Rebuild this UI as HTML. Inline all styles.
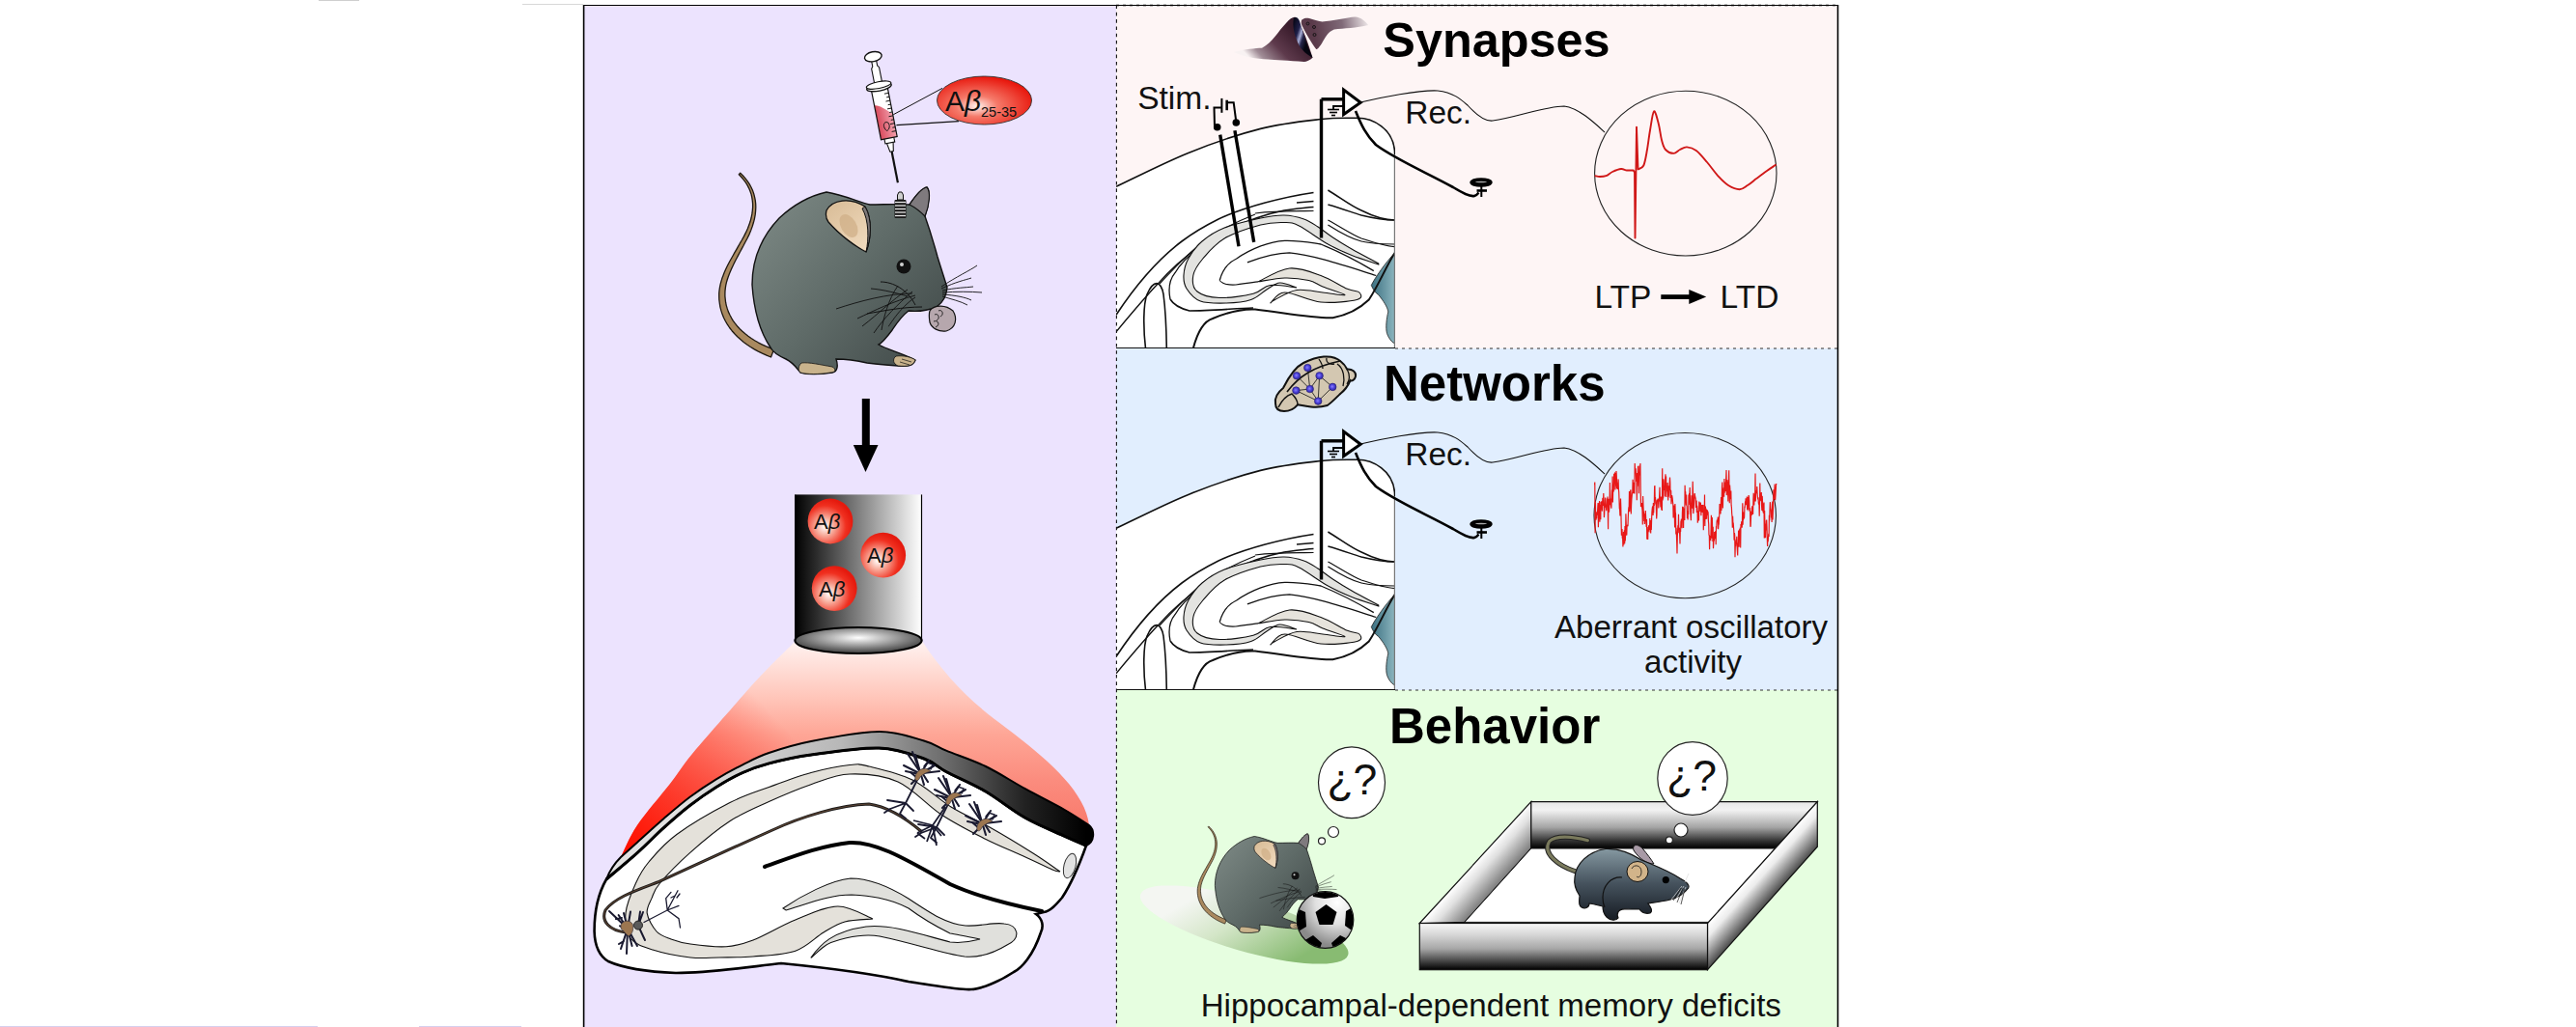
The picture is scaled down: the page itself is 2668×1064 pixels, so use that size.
<!DOCTYPE html>
<html><head><meta charset="utf-8">
<style>
html,body{margin:0;padding:0;background:#fff;width:2668px;height:1064px;overflow:hidden}
svg{display:block}
text{font-family:"Liberation Sans",sans-serif}
</style></head>
<body>
<svg width="2668" height="1064" viewBox="0 0 2668 1064">
<defs>

<linearGradient id="gBody" x1="790" y1="220" x2="960" y2="370" gradientUnits="userSpaceOnUse"><stop offset="0" stop-color="#7a8682"/><stop offset="0.5" stop-color="#5f6b68"/><stop offset="1" stop-color="#434c4b"/></linearGradient>
<linearGradient id="gEar" x1="860" y1="210" x2="900" y2="260" gradientUnits="userSpaceOnUse"><stop offset="0" stop-color="#d9bd98"/><stop offset="1" stop-color="#f2dcc0"/></linearGradient>
<radialGradient id="gEll" cx="0.42" cy="0.62" r="0.62"><stop offset="0" stop-color="#fff2ee"/><stop offset="0.35" stop-color="#f57a6a"/><stop offset="1" stop-color="#e8160c"/></radialGradient>
<radialGradient id="gBall" cx="0.38" cy="0.62" r="0.62"><stop offset="0" stop-color="#ffffff"/><stop offset="0.3" stop-color="#f8b0a0"/><stop offset="0.75" stop-color="#f03020"/><stop offset="1" stop-color="#e51a0e"/></radialGradient>
<linearGradient id="gCyl" x1="823" y1="0" x2="955" y2="0" gradientUnits="userSpaceOnUse"><stop offset="0" stop-color="#000"/><stop offset="1" stop-color="#fff"/></linearGradient>
<radialGradient id="gCylB" cx="0.5" cy="0.4" r="0.6"><stop offset="0" stop-color="#fff"/><stop offset="1" stop-color="#3a3a3a"/></radialGradient>
<radialGradient id="gBeam" cx="900" cy="630" r="340" gradientUnits="userSpaceOnUse"><stop offset="0" stop-color="#fff6f4"/><stop offset="0.3" stop-color="#fde2de"/><stop offset="0.7" stop-color="#fb8a80"/><stop offset="1" stop-color="#ff1a06"/></radialGradient>
<linearGradient id="gBand" x1="700" y1="0" x2="1125" y2="0" gradientUnits="userSpaceOnUse"><stop offset="0" stop-color="#e2e2e2"/><stop offset="0.4" stop-color="#b8b8b8"/><stop offset="0.65" stop-color="#6e6e6e"/><stop offset="0.85" stop-color="#222"/><stop offset="1" stop-color="#000"/></linearGradient>
<linearGradient id="gFluid" x1="0" y1="0" x2="1" y2="0"><stop offset="0" stop-color="#d84a5c"/><stop offset="1" stop-color="#f2a0ae"/></linearGradient>

<clipPath id="cSlice"><rect x="1156" y="0" width="289" height="361"/></clipPath>
<linearGradient id="gTeal" x1="1420" y1="0" x2="1445" y2="0" gradientUnits="userSpaceOnUse"><stop offset="0" stop-color="#3a6f80"/><stop offset="1" stop-color="#8db6bf"/></linearGradient>
<linearGradient id="gSynL" x1="1290" y1="20" x2="1330" y2="64" gradientUnits="userSpaceOnUse"><stop offset="0" stop-color="#3d2030"/><stop offset="0.55" stop-color="#6a4a5a"/><stop offset="1" stop-color="#f4eef0"/></linearGradient>
<linearGradient id="gSynR" x1="1360" y1="30" x2="1420" y2="20" gradientUnits="userSpaceOnUse"><stop offset="0" stop-color="#5a3a4a"/><stop offset="0.5" stop-color="#806a78"/><stop offset="1" stop-color="#fbf6f6"/></linearGradient>
<linearGradient id="gPSD" x1="1338" y1="30" x2="1356" y2="36" gradientUnits="userSpaceOnUse"><stop offset="0" stop-color="#0a0a1c"/><stop offset="0.35" stop-color="#20204a"/><stop offset="0.55" stop-color="#aab0d8"/><stop offset="0.72" stop-color="#26264c"/><stop offset="1" stop-color="#050510"/></linearGradient>

<linearGradient id="gShadow" x1="1250" y1="925" x2="1330" y2="1000" gradientUnits="userSpaceOnUse"><stop offset="0" stop-color="#f4f6f2"/><stop offset="0.4" stop-color="#d4e6c8"/><stop offset="1" stop-color="#88bb72"/></linearGradient>
<radialGradient id="gSoccer" cx="1385" cy="935" r="45" gradientUnits="userSpaceOnUse"><stop offset="0" stop-color="#ffffff"/><stop offset="0.5" stop-color="#e0e0e0"/><stop offset="1" stop-color="#8a8a8a"/></radialGradient>
<linearGradient id="gBack" x1="0" y1="830.6" x2="0" y2="879" gradientUnits="userSpaceOnUse"><stop offset="0" stop-color="#e6e6e6"/><stop offset="0.18" stop-color="#f2f2f2"/><stop offset="0.55" stop-color="#a4a4a4"/><stop offset="0.85" stop-color="#2e2e2e"/><stop offset="1" stop-color="#000"/></linearGradient>
<linearGradient id="gFront" x1="0" y1="956.5" x2="0" y2="1004.7" gradientUnits="userSpaceOnUse"><stop offset="0" stop-color="#f8f8f8"/><stop offset="0.25" stop-color="#d6d6d6"/><stop offset="0.55" stop-color="#a6a6a6"/><stop offset="0.8" stop-color="#4a4a4a"/><stop offset="1" stop-color="#000"/></linearGradient>
<linearGradient id="gLeftW" x1="1528" y1="893.5" x2="1552" y2="915" gradientUnits="userSpaceOnUse"><stop offset="0" stop-color="#ffffff"/><stop offset="0.35" stop-color="#e0e0e0"/><stop offset="1" stop-color="#808080"/></linearGradient>
<linearGradient id="gRightW" x1="1825" y1="893.5" x2="1849" y2="915" gradientUnits="userSpaceOnUse"><stop offset="0" stop-color="#ffffff"/><stop offset="0.3" stop-color="#ececec"/><stop offset="1" stop-color="#4a4a4a"/></linearGradient>
<linearGradient id="gM3" x1="0" y1="880" x2="0" y2="950" gradientUnits="userSpaceOnUse"><stop offset="0" stop-color="#8497a0"/><stop offset="0.5" stop-color="#46535e"/><stop offset="1" stop-color="#1a2028"/></linearGradient>
<linearGradient id="gBeamV" x1="0" y1="665" x2="0" y2="856" gradientUnits="userSpaceOnUse"><stop offset="0" stop-color="#fff2f0"/><stop offset="0.3" stop-color="#ffc6ba"/><stop offset="0.5" stop-color="#fea696"/><stop offset="0.75" stop-color="#fb8c7e"/><stop offset="1" stop-color="#f97a6c"/></linearGradient>
<linearGradient id="gBeamL" x1="800" y1="740" x2="650" y2="880" gradientUnits="userSpaceOnUse"><stop offset="0" stop-color="#ff1000" stop-opacity="0"/><stop offset="1" stop-color="#ff1000" stop-opacity="1"/></linearGradient>
<linearGradient id="gSynL2" x1="1338" y1="30" x2="1300" y2="66" gradientUnits="userSpaceOnUse"><stop offset="0" stop-color="#3a1c2c"/><stop offset="0.45" stop-color="#5e3a4c"/><stop offset="0.8" stop-color="#a08c96"/><stop offset="1" stop-color="#f8f2f2"/></linearGradient>
<radialGradient id="gDot" cx="0.45" cy="0.45" r="0.6"><stop offset="0" stop-color="#8a80ff"/><stop offset="0.5" stop-color="#4a3fd8"/><stop offset="1" stop-color="#2a2290"/></radialGradient>
<!--DEFS-->
</defs>
<rect x="0" y="0" width="2668" height="1064" fill="#fff"/>
<!-- artifacts -->
<line x1="541" y1="4.5" x2="604" y2="4.5" stroke="#d8d8d8" stroke-width="1"/>
<line x1="330" y1="0.5" x2="372" y2="0.5" stroke="#cfcfcf" stroke-width="1"/>
<line x1="0" y1="1063.5" x2="329" y2="1063.5" stroke="#d6d0ee" stroke-width="1"/>
<line x1="434" y1="1063.5" x2="540" y2="1063.5" stroke="#d6d0ee" stroke-width="1"/>

<!-- panels -->
<rect x="604.5" y="5.5" width="551.5" height="1070" fill="#ECE3FE"/>
<line x1="604.6" y1="5" x2="604.6" y2="1064" stroke="#000" stroke-width="1.6"/>
<rect x="1156" y="5.5" width="747.5" height="355.5" fill="#FEF5F5"/>
<rect x="1156" y="361" width="747.5" height="354" fill="#E1EEFE"/>
<rect x="1156" y="715" width="747.5" height="360" fill="#E6FEE0"/>

<g id="leftpanel">
<!-- body -->
<g id="mouse"><!-- tail -->
<path d="M765.3,180.7 L767.9,183.5 L770.3,186.3 L772.4,189.2 L774.2,192.1 L775.7,195.1 L777.0,198.2 L778.1,201.4 L778.8,204.6 L779.3,208.0 L779.6,211.3 L779.6,214.8 L779.3,218.3 L778.8,221.9 L778.1,225.5 L777.1,229.3 L775.8,233.1 L774.3,237.0 L772.5,240.9 L770.5,244.9 L768.2,249.0 L766.3,252.2 L764.5,255.4 L762.7,258.6 L760.9,261.7 L759.2,264.7 L757.5,267.7 L755.8,270.8 L754.2,273.8 L752.7,276.7 L751.3,279.7 L750.0,282.7 L748.9,285.7 L747.8,288.6 L746.9,291.6 L746.1,294.7 L745.5,297.7 L745.0,300.8 L744.7,304.0 L744.7,307.1 L744.8,310.3 L745.3,314.2 L745.9,318.1 L746.9,321.9 L748.1,325.6 L749.6,329.2 L751.4,332.7 L753.4,336.2 L755.6,339.5 L758.1,342.7 L760.8,345.8 L763.7,348.8 L766.8,351.6 L770.2,354.4 L773.7,357.0 L777.4,359.5 L781.3,361.9 L785.4,364.1 L789.6,366.2 L794.0,368.2 L798.5,370.0 L801.5,362.0 L797.2,360.4 L793.0,358.7 L789.1,356.8 L785.2,354.8 L781.6,352.7 L778.1,350.5 L774.9,348.2 L771.8,345.8 L768.9,343.3 L766.2,340.7 L763.7,338.0 L761.4,335.2 L759.3,332.3 L757.5,329.3 L755.9,326.3 L754.4,323.1 L753.3,319.9 L752.3,316.6 L751.6,313.2 L751.2,309.7 L750.9,306.9 L750.9,304.2 L751.0,301.4 L751.3,298.6 L751.7,295.9 L752.3,293.1 L753.1,290.3 L754.0,287.5 L755.0,284.7 L756.2,281.8 L757.4,278.9 L758.8,276.0 L760.2,273.0 L761.7,270.0 L763.3,267.0 L764.9,263.9 L766.6,260.7 L768.3,257.6 L770.1,254.3 L771.8,251.0 L774.1,246.8 L776.1,242.6 L777.8,238.4 L779.3,234.3 L780.5,230.3 L781.5,226.3 L782.2,222.4 L782.6,218.6 L782.8,214.8 L782.7,211.2 L782.3,207.6 L781.6,204.1 L780.7,200.6 L779.5,197.3 L778.0,194.0 L776.3,190.9 L774.3,187.8 L772.0,184.9 L769.5,182.0 L766.7,179.3 Z" fill="#a9895f" stroke="#1e1810" stroke-width="1.3" stroke-linejoin="round"/>


<path d="M856,199 C875,202 890,210 901,212 C915,212 930,211 942,212 C948,203 955,195 960,194 C964,198 962,212 958,224 C963,238 968,255 971,266 C974,276 978,288 981,298 C980,306 978,312 970,318 C960,322 950,323 941,322 C933,328 928,336 924,342 C918,350 912,356 910,357 C918,362 935,366 948,373 C946,379 940,380 930,379 C915,378 905,377 898,376 C885,373 875,372 866,372 C868,378 868,385 862,386 C848,388 836,388 829,386 C824,380 822,376 814,372 C805,368 800,364 798,360 C788,345 781,325 779,295 C779,270 788,246 807,226 C822,212 838,203 856,199 Z" fill="url(#gBody)" stroke="#111" stroke-width="1.4"/>
<!-- right ear -->
<path d="M942,212 C948,203 955,195 960,194 C964,198 963,212 958,224 C952,218 946,214 942,212 Z" fill="#7f7a7e" stroke="#111" stroke-width="1.2"/>
<!-- left ear -->
<path d="M856,218 C862,207 880,204 896,214 C904,228 902,248 897,261 C887,256 870,244 858,230 C855,226 855,222 856,218 Z" fill="url(#gEar)" stroke="#111" stroke-width="1.3"/>
<path d="M896,214 C904,228 902,248 897,261 C900,248 900,228 893,216 Z" fill="#7d7778" stroke="#111" stroke-width="1"/>
<ellipse cx="879" cy="234" rx="8" ry="13" transform="rotate(-30 879 234)" fill="#cfae86" opacity="0.7"/>
<!-- eye -->
<circle cx="936" cy="276" r="7.5" fill="#111"/>
<circle cx="934" cy="274" r="2" fill="#cfcfcf"/>
<!-- mouth / cheek line -->
<path d="M912,292 C925,292 940,300 948,316" fill="none" stroke="#111" stroke-width="1"/>
<path d="M898,325 C915,322 935,318 955,318" fill="none" stroke="#111" stroke-width="1"/>
<!-- whiskers -->
<g stroke="#111" stroke-width="0.9" fill="none">
<path d="M945,304 C920,304 890,312 866,320"/>
<path d="M948,306 C925,312 905,322 888,330"/>
<path d="M945,302 C930,315 915,330 905,345"/>
<path d="M940,300 C925,310 910,325 893,338"/>
<path d="M930,296 C920,310 915,330 913,342"/>
<path d="M948,308 C930,320 920,340 920,338"/>
<path d="M902,299 C915,300 930,304 940,307"/>
<path d="M975,297 C990,287 1005,280 1012,275"/>
<path d="M975,299 C990,292 1000,290 1006,288"/>
<path d="M976,301 C990,298 1000,298 1008,297"/>
<path d="M976,303 C990,302 1005,302 1017,303"/>
<path d="M976,305 C990,306 1000,308 1006,311"/>
<path d="M976,307 C985,310 995,312 1002,316"/>
</g>
<!-- hand -->
<path d="M963,322 C968,315 980,316 987,322 C992,330 990,340 980,343 C972,344 965,340 963,334 C962,328 962,325 963,322 Z" fill="#b6a7ad" stroke="#111" stroke-width="1.2"/>
<path d="M968,326 C972,324 974,330 970,332 M967,333 C972,331 974,337 969,339 M972,322 C976,320 978,326 974,328" fill="none" stroke="#111" stroke-width="0.9"/>
<!-- feet -->
<path d="M830,376 C838,375 850,378 862,380 C866,382 866,386 860,386 C848,388 836,388 829,386 C826,383 827,379 830,376 Z" fill="#c9b38c" stroke="#111" stroke-width="0.8"/>
<path d="M928,369 C936,368 944,370 948,373 C946,379 940,380 930,379 C925,377 924,372 928,369 Z" fill="#c9b38c" stroke="#111" stroke-width="0.8"/>
<path d="M934,372 L944,375 M932,375 L942,378" stroke="#111" stroke-width="0.7"/>
</g>
<!-- cannula -->
<g>
<rect x="926.5" y="207" width="12" height="19" rx="1" fill="#1a1a1a"/>
<g stroke="#e8e8e8" stroke-width="1.3"><line x1="927" y1="209.5" x2="938" y2="209.5"/><line x1="927" y1="213" x2="938" y2="213"/><line x1="927" y1="216.5" x2="938" y2="216.5"/><line x1="927" y1="220" x2="938" y2="220"/><line x1="927" y1="223.5" x2="938" y2="223.5"/></g>
<path d="M929.5,207 L929.5,202 L931,199 L934,199 L935.5,202 L935.5,207 Z" fill="#cfcfcf" stroke="#111" stroke-width="1"/>
</g>
<!-- syringe -->
<g transform="translate(904.3,58.7) rotate(-11.1)">
<line x1="0" y1="100" x2="0" y2="133" stroke="#111" stroke-width="2.2"/>
<path d="M-3.5,90 L3.5,90 L1.8,100 L-1.8,100 Z" fill="#fff" stroke="#111" stroke-width="1.1"/>
<rect x="-5" y="85" width="10" height="6" fill="#fff" stroke="#111" stroke-width="1.1"/>
<path d="M-2.5,4 L-2.5,10 L-4,12 L-4,31 L4,31 L4,12 L2.5,10 L2.5,4 Z" fill="#fff" stroke="#111" stroke-width="1.1"/>
<ellipse cx="0" cy="0" rx="9" ry="5" fill="#fff" stroke="#111" stroke-width="1.4"/>
<rect x="-8.5" y="34" width="17" height="52" fill="#fff"/>
<path d="M-8.5,50 C-4,50 2,56 8.5,62 L8.5,86 L-8.5,86 Z" fill="url(#gFluid)"/>
<rect x="-8.5" y="34" width="17" height="52" fill="none" stroke="#111" stroke-width="1.2"/>
<ellipse cx="0" cy="32" rx="13" ry="4" fill="#fff" stroke="#111" stroke-width="1.3"/>
<ellipse cx="0" cy="30" rx="13" ry="3.5" fill="#fff" stroke="#111" stroke-width="1.1"/>
<g stroke="#111" stroke-width="0.9">
<line x1="4" y1="40" x2="8.5" y2="40"/><line x1="5.5" y1="44" x2="8.5" y2="44"/><line x1="4" y1="48" x2="8.5" y2="48"/><line x1="5.5" y1="52" x2="8.5" y2="52"/><line x1="4" y1="56" x2="8.5" y2="56"/><line x1="5.5" y1="60" x2="8.5" y2="60"/><line x1="4" y1="64" x2="8.5" y2="64"/><line x1="5.5" y1="68" x2="8.5" y2="68"/><line x1="4" y1="72" x2="8.5" y2="72"/><line x1="5.5" y1="76" x2="8.5" y2="76"/><line x1="4" y1="80" x2="8.5" y2="80"/>
</g>
<path d="M-1,78 C-5,73 -2,67 2,70 C4,73 2,78 -1,78 Z" fill="none" stroke="#111" stroke-width="0.9"/>
</g>
<!-- callout -->
<line x1="925.3" y1="118.7" x2="976" y2="91.4" stroke="#111" stroke-width="1"/>
<line x1="928.4" y1="129.6" x2="993" y2="125.7" stroke="#111" stroke-width="1.3"/>
<ellipse cx="1019.5" cy="104" rx="49" ry="25" fill="url(#gEll)" stroke="#333" stroke-width="0.9"/>
<text x="979" y="115" font-size="30" fill="#111">A<tspan font-style="italic">β</tspan></text>
<text x="1016" y="120.5" font-size="14.5" fill="#111">25-35</text>
<!-- arrow -->
<rect x="892.8" y="413" width="8" height="49" fill="#000"/>
<path d="M883.8,461 L909.5,461 L896.5,489 Z" fill="#000"/>
<!-- beam -->
<path d="M824.0,664.0 C818.0,670.0 798.2,689.3 788.0,700.0 C777.8,710.7 774.8,714.5 763.0,728.0 C751.2,741.5 728.5,767.0 717.0,781.0 C705.5,795.0 703.5,799.7 694.0,812.0 C684.5,824.3 668.5,842.3 660.0,855.0 C651.5,867.7 645.8,882.5 643.0,888.0  C645.8,885.5 652.6,879.3 660.0,872.7 C667.4,866.1 678.2,856.0 687.3,848.2 C696.4,840.4 705.4,832.5 714.5,825.7 C723.6,818.9 732.7,812.9 741.8,807.3 C750.9,801.7 760.0,796.8 769.1,792.3 C778.2,787.8 784.6,784.0 796.4,780.0 C808.2,776.0 821.0,771.7 840.0,768.0 C859.0,764.3 891.0,758.1 910.5,758.0 C930.0,757.9 945.4,764.2 957.0,767.5 C968.6,770.8 969.4,773.3 980.0,777.7 C990.6,782.1 1007.3,787.4 1020.9,794.0 C1034.5,800.6 1048.2,809.7 1061.8,817.2 C1075.4,824.7 1091.7,832.7 1102.7,839.0 C1113.7,845.3 1123.8,852.3 1128.0,855.0 C1124,815 1070,775 1030,745 C1000,722 975,695 955,664 Z" fill="url(#gBeamV)"/>
<path d="M824.0,664.0 C818.0,670.0 798.2,689.3 788.0,700.0 C777.8,710.7 774.8,714.5 763.0,728.0 C751.2,741.5 728.5,767.0 717.0,781.0 C705.5,795.0 703.5,799.7 694.0,812.0 C684.5,824.3 668.5,842.3 660.0,855.0 C651.5,867.7 645.8,882.5 643.0,888.0  C645.8,885.5 652.6,879.3 660.0,872.7 C667.4,866.1 678.2,856.0 687.3,848.2 C696.4,840.4 705.4,832.5 714.5,825.7 C723.6,818.9 732.7,812.9 741.8,807.3 C750.9,801.7 760.0,796.8 769.1,792.3 C778.2,787.8 784.6,784.0 796.4,780.0 C808.2,776.0 821.0,771.7 840.0,768.0 C859.0,764.3 891.0,758.1 910.5,758.0 C930.0,757.9 945.4,764.2 957.0,767.5 C968.6,770.8 969.4,773.3 980.0,777.7 C990.6,782.1 1007.3,787.4 1020.9,794.0 C1034.5,800.6 1048.2,809.7 1061.8,817.2 C1075.4,824.7 1091.7,832.7 1102.7,839.0 C1113.7,845.3 1123.8,852.3 1128.0,855.0 C1124,815 1070,775 1030,745 C1000,722 975,695 955,664 Z" fill="url(#gBeamL)"/>
<!-- cylinder -->
<rect x="823.4" y="512.4" width="131.3" height="151" fill="url(#gCyl)"/>
<line x1="823.6" y1="512.4" x2="823.6" y2="664" stroke="#000" stroke-width="1.2"/>
<line x1="954.5" y1="512.4" x2="954.5" y2="664" stroke="#000" stroke-width="1.2"/>
<ellipse cx="889" cy="663.5" rx="65.6" ry="13.5" fill="url(#gCylB)" stroke="#000" stroke-width="2.2"/>
<circle cx="860" cy="540" r="23.4" fill="url(#gBall)"/>
<circle cx="914.7" cy="575.2" r="23.4" fill="url(#gBall)"/>
<circle cx="864.2" cy="609.6" r="23.4" fill="url(#gBall)"/>
<text x="843" y="548" font-size="22" fill="#111">A<tspan font-style="italic">β</tspan></text>
<text x="898" y="583" font-size="22" fill="#111">A<tspan font-style="italic">β</tspan></text>
<text x="848" y="617.5" font-size="22" fill="#111">A<tspan font-style="italic">β</tspan></text>
<!-- hippocampus slice -->
<path d="M628.0,911.0 C633.3,906.4 650.1,892.5 660.0,883.6 C669.9,874.7 678.2,865.9 687.3,857.7 C696.4,849.5 705.4,841.5 714.5,834.5 C723.6,827.5 732.7,821.2 741.8,815.5 C750.9,809.8 760.0,804.6 769.1,800.5 C778.2,796.4 784.6,794.0 796.4,790.9 C808.2,787.8 821.0,784.6 840.0,782.0 C859.0,779.4 891.0,774.3 910.5,775.0 C930.0,775.7 945.4,781.9 957.0,786.0 C968.6,790.1 969.4,793.8 980.0,799.5 C990.6,805.2 1007.3,812.0 1020.9,820.0 C1034.5,828.0 1048.2,839.5 1061.8,847.2 C1075.4,854.9 1092.2,861.5 1102.7,866.3 C1113.2,871.1 1121.3,874.4 1125.0,876.0 C1120,890 1112,912 1100,930 C1094,937 1088,944 1081,945 L1073,947 C1080,952 1081,960 1078,966 C1070,990 1058,1003 1050,1007 C1035,1017 1015,1025 1006,1025 C995,1026 975,1022 941,1017 C910,1010 870,1004 809,998 C780,1001 740,1008 700,1008 C675,1007 648,1004 630,996 C620,990 616,980 615.6,965 C615.5,945 620,925 628,911 Z" fill="#fff" stroke="#000" stroke-width="2.6"/>
<path d="M643.0,888.0 C645.8,885.5 652.6,879.3 660.0,872.7 C667.4,866.1 678.2,856.0 687.3,848.2 C696.4,840.4 705.4,832.5 714.5,825.7 C723.6,818.9 732.7,812.9 741.8,807.3 C750.9,801.7 760.0,796.8 769.1,792.3 C778.2,787.8 784.6,784.0 796.4,780.0 C808.2,776.0 821.0,771.7 840.0,768.0 C859.0,764.3 891.0,758.1 910.5,758.0 C930.0,757.9 945.4,764.2 957.0,767.5 C968.6,770.8 969.4,773.3 980.0,777.7 C990.6,782.1 1007.3,787.4 1020.9,794.0 C1034.5,800.6 1048.2,809.7 1061.8,817.2 C1075.4,824.7 1091.7,832.7 1102.7,839.0 C1113.7,845.3 1123.8,852.3 1128.0,855.0 C1134,860 1134,872 1125,876 C1121.3,874.4 1113.2,871.1 1102.7,866.3 C1092.2,861.5 1075.4,854.9 1061.8,847.2 C1048.2,839.5 1034.5,828.0 1020.9,820.0 C1007.3,812.0 990.6,805.2 980.0,799.5 C969.4,793.8 968.6,790.1 957.0,786.0 C945.4,781.9 930.0,775.7 910.5,775.0 C891.0,774.3 859.0,779.4 840.0,782.0 C821.0,784.6 808.2,787.8 796.4,790.9 C784.6,794.0 778.2,796.4 769.1,800.5 C760.0,804.6 750.9,809.8 741.8,815.5 C732.7,821.2 723.6,827.5 714.5,834.5 C705.4,841.5 696.4,849.5 687.3,857.7 C678.2,865.9 669.9,874.7 660.0,883.6 C650.1,892.5 633.3,906.4 628.0,911.0 C631,903 636,895 643,888 Z" fill="url(#gBand)" stroke="#000" stroke-width="2"/>
<path d="M628.0,911.0 C633.3,906.4 650.1,892.5 660.0,883.6 C669.9,874.7 678.2,865.9 687.3,857.7 C696.4,849.5 705.4,841.5 714.5,834.5 C723.6,827.5 732.7,821.2 741.8,815.5 C750.9,809.8 760.0,804.6 769.1,800.5 C778.2,796.4 784.6,794.0 796.4,790.9 C808.2,787.8 821.0,784.6 840.0,782.0 C859.0,779.4 891.0,774.3 910.5,775.0 C930.0,775.7 945.4,781.9 957.0,786.0 C968.6,790.1 969.4,793.8 980.0,799.5 C990.6,805.2 1007.3,812.0 1020.9,820.0 C1034.5,828.0 1048.2,839.5 1061.8,847.2 C1075.4,854.9 1092.2,861.5 1102.7,866.3 C1113.2,871.1 1121.3,874.4 1125.0,876.0" fill="none" stroke="#000" stroke-width="3"/>
<path d="M1098.0,903.0 C1093.3,899.8 1082.2,891.7 1070.0,884.0 C1057.8,876.3 1039.2,865.0 1025.0,857.0 C1010.8,849.0 998.3,844.2 985.0,836.0 C971.7,827.8 959.2,815.0 945.0,808.0 C930.8,801.0 910.8,796.6 900.0,794.0 C889.2,791.4 890.0,791.4 880.0,792.5 C870.0,793.6 853.9,796.7 840.0,800.5 C826.1,804.3 810.5,810.3 796.4,815.5 C782.3,820.7 771.4,823.6 755.5,831.8 C739.6,840.0 714.8,854.3 700.9,864.5 C687.0,874.7 679.1,884.6 672.0,893.0 C664.9,901.4 662.5,906.2 658.5,915.0 C654.5,923.8 648.9,936.5 648.0,946.0 C647.1,955.5 648.3,965.7 653.0,972.0 C657.7,978.3 665.7,980.7 676.0,984.0 C686.3,987.3 703.5,990.7 715.0,992.0 C726.5,993.3 734.2,992.2 745.0,992.0 C755.8,991.8 766.9,992.1 780.0,991.0 C793.1,989.9 811.6,989.4 823.8,985.2 C836.0,981.0 844.5,971.0 853.0,966.0 C861.5,961.0 866.5,957.3 875.0,955.0 C883.5,952.7 899.2,952.5 904.0,952.0 C897.9,949.8 881.0,938.8 867.6,939.0 C854.2,939.2 838.4,947.2 823.8,953.0 C809.2,958.8 792.0,969.4 780.0,974.0 C768.0,978.6 762.8,980.0 752.0,980.7 C741.2,981.4 724.5,979.3 715.0,978.0 C705.5,976.7 700.8,975.2 695.0,973.0 C689.2,970.8 684.1,969.5 680.0,965.0 C675.9,960.5 671.0,951.9 670.2,946.2 C669.4,940.5 672.8,935.8 675.0,930.6 C677.2,925.4 676.9,922.8 683.5,915.0 C690.1,907.2 702.5,894.3 714.5,883.6 C726.5,872.9 741.9,859.9 755.5,851.0 C769.1,842.1 782.3,836.9 796.4,830.5 C810.5,824.1 826.1,817.5 840.0,812.7 C853.9,808.0 865.0,802.5 880.0,802.0 C895.0,801.5 914.2,803.0 930.0,810.0 C945.8,817.0 960.0,834.2 975.0,844.0 C990.0,853.8 1005.8,861.8 1020.0,869.0 C1034.2,876.2 1048.3,881.7 1060.0,887.0 C1071.7,892.3 1083.7,898.3 1090.0,901.0 C1096.3,903.7 1096.7,902.7 1098.0,903.0 Z" fill="#e4e1da" stroke="#111" stroke-width="1.1"/>
<path d="M811,941 C830,928 860,912 881,910 C900,910 920,918 941,931 C965,947 980,957 1000,959 C1015,960 1030,955 1040,957 C1055,958 1058,972 1043,979 C1025,990 1010,992 999,991 C975,988 950,978 911,970 C890,966 860,975 853,981 C845,987 840,993 840,992 C850,978 862,965 897,960 C925,957 960,970 984,976 C1000,978 1010,974 1015,973 C1000,970 990,968 984,967 C960,955 945,944 941,941 C920,930 900,928 882,927 C860,927 840,935 814,943 Z" fill="#e0e0dc" stroke="#111" stroke-width="1.1"/>
<path d="M792,898 C820,888 850,876 880,873 C905,872 930,885 984,916 C1010,928 1040,936 1079,944" fill="none" stroke="#000" stroke-width="4" stroke-linecap="round"/>
<ellipse cx="1108" cy="897" rx="6" ry="13" transform="rotate(15 1108 897)" fill="#e2e2e2" stroke="#333" stroke-width="1"/>
<!-- axon -->
<path d="M955,862 C935,845 915,835 900,833 C870,834 830,846 800,860 C760,878 700,905 681,914 C660,922 636,930 627,943 C622,955 632,964 648,966" fill="none" stroke="#1a1a1a" stroke-width="3"/>
<path d="M955,862 C935,845 915,835 900,833 C870,834 830,846 800,860 C760,878 700,905 681,914 C660,922 636,930 627,943 C622,955 632,964 648,966" fill="none" stroke="#5a4232" stroke-width="1.1"/>
<g transform="translate(0,0)"><g stroke="#1a1a30" stroke-width="2.1" fill="none" stroke-linecap="round"><line x1="953" y1="800" x2="940" y2="781"/><line x1="953" y1="800" x2="945" y2="779"/><line x1="953" y1="800" x2="948" y2="782"/><line x1="952" y1="801" x2="936" y2="793"/><line x1="952" y1="802" x2="938" y2="799"/><line x1="955" y1="799" x2="962" y2="788"/><line x1="956" y1="800" x2="968" y2="793"/><line x1="956" y1="801" x2="973" y2="799"/><line x1="956" y1="802" x2="961" y2="810"/><line x1="954" y1="803" x2="957" y2="813"/><line x1="950" y1="806" x2="943" y2="800"/><line x1="950" y1="806" x2="944" y2="812"/><path d="M957,794 L960,790 L966,792 L964,797" stroke-width="1.4"/><path d="M950,808 L938,832 M938,832 L919,829 M938,832 L922,838 M938,832 L932,843 M938,832 L946,840 M932,843 L938,848 M922,838 L916,842" stroke-width="1.8"/></g><path d="M948,808 C947,803 950,799 954,797 C958,795 962,797 964,799 C960,800 956,802 953,805 C952,808 950,810 948,808 Z" fill="#9c7650" stroke="#2a2a3a" stroke-width="0.6"/></g><g transform="translate(32,25)"><g stroke="#1a1a30" stroke-width="2.1" fill="none" stroke-linecap="round"><line x1="953" y1="800" x2="940" y2="781"/><line x1="953" y1="800" x2="945" y2="779"/><line x1="953" y1="800" x2="948" y2="782"/><line x1="952" y1="801" x2="936" y2="793"/><line x1="952" y1="802" x2="938" y2="799"/><line x1="955" y1="799" x2="962" y2="788"/><line x1="956" y1="800" x2="968" y2="793"/><line x1="956" y1="801" x2="973" y2="799"/><line x1="956" y1="802" x2="961" y2="810"/><line x1="954" y1="803" x2="957" y2="813"/><line x1="950" y1="806" x2="943" y2="800"/><line x1="950" y1="806" x2="944" y2="812"/><path d="M957,794 L960,790 L966,792 L964,797" stroke-width="1.4"/><path d="M950,808 L938,832 M938,832 L919,829 M938,832 L922,838 M938,832 L932,843 M938,832 L946,840 M932,843 L938,848 M922,838 L916,842" stroke-width="1.8"/></g><path d="M948,808 C947,803 950,799 954,797 C958,795 962,797 964,799 C960,800 956,802 953,805 C952,808 950,810 948,808 Z" fill="#9c7650" stroke="#2a2a3a" stroke-width="0.6"/></g><g transform="translate(64,52)"><g stroke="#1a1a30" stroke-width="2.1" fill="none" stroke-linecap="round"><line x1="953" y1="800" x2="940" y2="781"/><line x1="953" y1="800" x2="945" y2="779"/><line x1="953" y1="800" x2="948" y2="782"/><line x1="952" y1="801" x2="936" y2="793"/><line x1="952" y1="802" x2="938" y2="799"/><line x1="955" y1="799" x2="962" y2="788"/><line x1="956" y1="800" x2="968" y2="793"/><line x1="956" y1="801" x2="973" y2="799"/><line x1="956" y1="802" x2="961" y2="810"/><line x1="954" y1="803" x2="957" y2="813"/><line x1="950" y1="806" x2="943" y2="800"/><line x1="950" y1="806" x2="944" y2="812"/><path d="M957,794 L960,790 L966,792 L964,797" stroke-width="1.4"/></g><path d="M948,808 C947,803 950,799 954,797 C958,795 962,797 964,799 C960,800 956,802 953,805 C952,808 950,810 948,808 Z" fill="#9c7650" stroke="#2a2a3a" stroke-width="0.6"/></g><path d="M979,836 L966,855 M966,855 L946,850 M966,855 L950,863 M966,855 L960,872 M966,855 L970,876 M966,855 L975,866 M950,863 L958,869" stroke="#1a1a30" stroke-width="1.8" fill="none"/>
<g stroke="#1a1a30" stroke-width="2" fill="none" stroke-linecap="round">
<path d="M650,962 L631,944 M650,962 L640.6,948 M650,962 L646,946 M650,962 L653,944.6 M650,962 L642,959.4 M650,962 L643,983 M650,962 L649,988 M650,962 L654.6,980 M650,962 L660,980 M661,959 L663,944.6 M661,959 L666,945 M661,959 L668,974 M644,951 L638,952 M646,975 L641,978"/>
<path d="M667,955.5 L691.2,943 L689.7,930.6 L695,924.4 M691.2,943 L702,922.8 M691.2,943 L703,938.4 M691.2,943 L703,951.6 L704.5,961 M695,930 L699,928 M701,930 L704,926" stroke-width="1.3"/>
</g>
<path d="M643,958 C646,953 652,953 655,957 C657,962 655,968 651,970 C648,968 646,964 643,962 Z" fill="#9c7650" stroke="#2a2a3a" stroke-width="0.6"/>
<circle cx="661" cy="958.6" r="4.5" fill="#5a5a5a" stroke="#222" stroke-width="1"/>
</g>
<g id="syn">
<g id="slice" clip-path="url(#cSlice)">
<path d="M1156.0,193.3 C1168.5,187.5 1205.9,168.4 1230.8,158.4 C1255.7,148.4 1282.7,139.2 1305.6,133.4 C1328.5,127.6 1351.4,125.4 1368.0,123.5 C1384.6,121.6 1399.2,122.4 1405.4,122.2 C1420,122 1444.6,132 1444.6,160 L1444.6,361 L1156,361 Z" fill="#fff"/>
<path d="M1444.6,262 C1435,272 1424,288 1420.3,295.5 C1422,300 1425,304 1427.8,305.5 C1433,312 1437,318 1437.8,323 C1436,330 1435,340 1436.5,345.4 C1438,350 1441,354 1444.6,356 Z" fill="url(#gTeal)" stroke="#222" stroke-width="0.8"/>
<g fill="none" stroke="#111" stroke-width="1.6">
<path d="M1156,326.3 C1170,305 1195,272 1224,250 C1240,238 1252,232 1262,227 C1290,214 1330,204 1360.5,199.5"/>
<path d="M1156,343.8 C1170,327 1185,309 1199.6,293.6 C1215,276 1232,262 1250,250 C1270,238 1300,224 1330,218 C1345,216 1352,215 1360.5,214.5" stroke-width="1.4"/>
<path d="M1201,294 C1215,279 1228,265 1244,252 C1262,238 1285,228 1300,222" stroke-width="1.1"/>
<path d="M1300,221 C1325,218 1345,219 1360.5,218.5" stroke-width="1.2"/>
<path d="M1343,210 L1360.5,208.5" stroke-width="1.4"/>
<path d="M1186.5,361 C1184,340 1184,315 1188,305 C1191,298 1195,293.6 1198,293.6 C1202,294 1204,299 1205,305 C1207,320 1208,340 1208.3,361"/>
<path d="M1212,310 C1210,300 1211,290 1217,282.7 C1223,272 1232,264 1245,254 C1265,240 1285,231 1305,226" stroke-width="1.3"/>
<path d="M1212,310 C1215,315 1220,319 1232,322 C1250,322 1275,320 1298,319"/>
<path d="M1375.4,197 C1390,206 1400,214 1410,218 C1422,224 1435,228 1444.6,228"/>
<path d="M1375.4,212 C1390,216 1400,220 1410,223 C1422,226 1435,228 1444.6,228" stroke-width="1.4"/>
<path d="M1375.4,228 C1390,236 1400,243 1410,247 C1422,251 1435,255 1444.6,255.6" stroke-width="1.2"/>
<path d="M1375.4,233 C1388,241 1398,247 1410,250 C1422,253 1435,253 1444.6,253" stroke-width="1.2"/>
<path d="M1235.8,361 C1240,345 1246,333 1256,330 C1275,322 1290,320 1300,320.5 C1330,324 1360,330 1380.4,329.2 C1398,326 1410,318 1417.8,310.5 C1428,295 1436,275 1444.6,262" stroke-width="2"/>
<path d="M1263.2,290.5 C1266,280 1272,272 1280.7,268 C1295,258 1315,250 1330.6,249.4 C1345,249 1355,251 1368,253 C1390,262 1410,273 1422.8,280.6" stroke-width="1.3"/>
<path d="M1291.9,271.8 C1305,267 1320,262 1335.5,261.9 C1360,264 1395,276 1425.3,285.5" stroke-width="1.3"/>
<path d="M1263.2,290.5 C1266,294 1272,295.5 1280,295 C1288,294 1295,292.5 1303,291.8" stroke-width="1.2"/>
</g>
<path d="M1427.8,273.0 C1423.2,270.5 1407.9,262.5 1400.0,258.0 C1392.1,253.5 1386.2,249.8 1380.4,246.0 C1374.6,242.2 1370.0,238.2 1365.0,235.0 C1360.0,231.8 1356.3,229.0 1350.5,227.0 C1344.7,225.0 1337.5,223.2 1330.0,223.0 C1322.5,222.8 1315.9,223.8 1305.6,226.0 C1295.3,228.2 1278.3,232.0 1268.2,236.0 C1258.1,240.0 1251.2,244.7 1245.0,250.0 C1238.8,255.3 1234.0,262.2 1230.8,268.0 C1227.6,273.8 1226.3,279.8 1226.0,285.0 C1225.7,290.2 1226.1,294.5 1229.0,299.0 C1231.9,303.5 1236.5,309.5 1243.3,312.0 C1250.1,314.5 1261.3,314.2 1270.0,314.0 C1278.7,313.8 1288.7,312.8 1295.7,310.5 C1302.7,308.2 1307.0,302.9 1312.0,300.0 C1317.0,297.1 1320.4,293.3 1325.6,293.0 C1330.8,292.7 1340.1,297.2 1343.0,298.0 C1338.4,297.6 1323.1,294.4 1315.6,295.5 C1308.1,296.6 1306.7,302.1 1298.0,304.3 C1289.3,306.5 1272.9,308.9 1263.2,308.5 C1253.5,308.1 1244.6,305.8 1240.0,302.0 C1235.4,298.2 1234.8,291.2 1235.8,285.5 C1236.8,279.8 1240.4,274.4 1245.8,268.0 C1251.2,261.6 1258.2,252.8 1268.2,247.0 C1278.2,241.2 1295.3,235.8 1305.6,233.0 C1315.9,230.2 1323.3,230.3 1330.0,230.5 C1336.7,230.7 1337.9,230.2 1345.5,234.0 C1353.1,237.8 1366.3,247.9 1375.4,253.0 C1384.5,258.1 1391.3,261.0 1400.0,264.5 C1408.7,268.0 1423.2,272.4 1427.8,274.0 Z" fill="#e3e3e0" stroke="#111" stroke-width="1.1"/>
<path d="M1303.0,291.8 C1308.4,289.5 1324.7,279.1 1335.5,278.0 C1346.3,276.9 1358.0,281.9 1368.0,285.5 C1378.0,289.1 1388.8,296.4 1395.4,299.3 C1402.1,302.2 1406.2,301.1 1407.9,303.0 C1409.6,304.9 1412.1,308.8 1405.4,310.5 C1398.8,312.2 1380.5,314.2 1368.0,313.0 C1355.5,311.8 1339.3,302.8 1330.6,303.0 C1321.9,303.2 1318.1,312.3 1315.6,314.2 C1316.4,313.6 1316.0,312.8 1320.6,310.5 C1325.2,308.2 1334.8,301.8 1343.0,300.5 C1351.2,299.2 1361.7,302.2 1370.0,303.0 C1378.3,303.8 1393.0,306.5 1393.0,305.5 C1393.0,304.5 1376.2,299.5 1370.0,297.0 C1363.8,294.5 1362.1,292.0 1355.5,290.5 C1348.9,289.0 1339.3,287.8 1330.6,288.0 C1321.8,288.2 1307.6,291.2 1303.0,291.8 Z" fill="#e6e3dc" stroke="#111" stroke-width="1.1"/>
<path d="M1156.0,193.3 C1168.5,187.5 1205.9,168.4 1230.8,158.4 C1255.7,148.4 1282.7,139.2 1305.6,133.4 C1328.5,127.6 1351.4,125.4 1368.0,123.5 C1384.6,121.6 1399.2,122.4 1405.4,122.2 C1420,122 1444.6,132 1444.6,160" fill="none" stroke="#111" stroke-width="1.6"/>
<line x1="1444.6" y1="160" x2="1444.6" y2="361" stroke="#777" stroke-width="1.6"/>
<line x1="1156" y1="361" x2="1445" y2="361" stroke="#111" stroke-width="1.8"/>
</g>
<line x1="1263.7" y1="139.6" x2="1283" y2="255.3" stroke="#000" stroke-width="3.4"/>
<line x1="1278.9" y1="135.2" x2="1298.7" y2="250.9" stroke="#000" stroke-width="3.4"/>
<circle cx="1260.7" cy="131.7" r="3.8" fill="#000"/>
<circle cx="1280.3" cy="127" r="3.8" fill="#000"/>
<path d="M1258,131 L1257.5,111.6 L1265.4,111.6" fill="none" stroke="#000" stroke-width="2"/>
<line x1="1265.4" y1="101.9" x2="1265.4" y2="116.8" stroke="#000" stroke-width="2"/>
<line x1="1270.7" y1="103.7" x2="1270.7" y2="114.2" stroke="#000" stroke-width="2.6"/>
<path d="M1271,106.3 L1277.7,106.3 L1280.3,126" fill="none" stroke="#000" stroke-width="2"/>
<text x="1178.2" y="112.6" font-size="33.5" fill="#111">Stim.</text>
<g id="recel">
<path d="M1404,115 C1410,130 1415,140 1425,150 C1445,165 1480,180 1505,194 C1515,200 1522,204 1527,203 C1530,202 1531,200 1531.5,199.5" fill="none" stroke="#000" stroke-width="2.6"/>
<path d="M1409,106 C1430,101 1470,93 1489,94 C1505,96 1512,102 1520,109 C1530,120 1538,126 1546,125 C1570,122 1600,110 1620,110 C1635,112 1650,126 1662,137" fill="none" stroke="#111" stroke-width="1.1"/>
<line x1="1368.5" y1="102.8" x2="1368.5" y2="246.5" stroke="#000" stroke-width="3.4"/>
<path d="M1368.5,102.8 L1392,102.8" stroke="#000" stroke-width="3.4" fill="none"/>
<path d="M1391.6,93.1 L1391.6,118.6 L1409.2,106.3 Z" fill="#fff" stroke="#000" stroke-width="3"/>
<path d="M1391,110 L1381,110 L1381,113" fill="none" stroke="#000" stroke-width="1.8"/>
<line x1="1375" y1="113.5" x2="1387" y2="113.5" stroke="#000" stroke-width="1.6"/>
<line x1="1377" y1="116.5" x2="1385" y2="116.5" stroke="#000" stroke-width="1.6"/>
<line x1="1379" y1="119.5" x2="1383" y2="119.5" stroke="#000" stroke-width="1.6"/>
<ellipse cx="1534" cy="189" rx="10.5" ry="3.6" fill="#000" stroke="#000" stroke-width="2.4"/>
<ellipse cx="1534" cy="188.5" rx="6" ry="0.8" fill="#aaa"/>
<line x1="1534.3" y1="192" x2="1534.3" y2="204" stroke="#000" stroke-width="2"/>
<line x1="1529.5" y1="197.5" x2="1540" y2="197.5" stroke="#000" stroke-width="2.6"/>
<text x="1455.3" y="127.8" font-size="33.5" fill="#111">Rec.</text>
</g>
<path d="M1277.5,54 C1290,51 1300,50 1307,49.8 C1318,44 1324,32 1332,24 C1336,19 1340,17 1342,18 C1350,30 1355,45 1359.5,59.7 C1357,62 1353,64 1350.7,64 C1335,63 1320,62 1313.5,61.6 C1300,61 1290,59 1277.5,54 Z" fill="url(#gSynL2)"/>
<path d="M1340,18.5 C1343,17 1345,19 1346,22 C1350,35 1354,48 1359.5,59.7 C1356,58 1350,54 1346,48 C1341,38 1338,27 1340,18.5 Z" fill="url(#gPSD)"/>
<path d="M1348.3,20.6 C1351,18.5 1354,18.7 1356,19 C1362,21 1366,22 1369.4,22.4 C1380,22 1395,18 1403.5,17.5 C1410,18 1414,22 1417.2,26.1 C1405,29 1392,29.5 1381.8,30.5 C1375,33 1372,40 1369.4,44.2 C1367,48 1365,51 1363.2,51 C1358,44 1352,34 1348.3,26.1 C1347.5,24 1347.5,22 1348.3,20.6 Z" fill="url(#gSynR)"/>
<g fill="none" stroke="#111" stroke-width="0.9"><circle cx="1354.5" cy="24.5" r="1.4"/><circle cx="1361" cy="28" r="1.5"/><circle cx="1361.5" cy="36" r="1.5"/></g>
<ellipse cx="1745.8" cy="179.6" rx="94.2" ry="85.4" fill="none" stroke="#222" stroke-width="1.1"/>
<path d="M1651.7,182.2 C1652.6,182.3 1655.0,183.0 1657.0,183.0 C1659.0,183.0 1661.2,183.0 1663.4,182.2 C1665.6,181.4 1667.4,179.2 1670.0,178.0 C1672.6,176.8 1676.5,175.2 1679.0,175.0 C1681.5,174.8 1682.9,176.3 1685.0,176.5 C1687.1,176.7 1690.5,176.4 1691.6,176.4 L1693,178.5 L1693.5,246.5 L1695,131.6 L1696.5,175.4 C1697.5,174.8 1700.7,174.9 1702.3,171.5 C1703.9,168.1 1704.9,161.1 1706.0,155.0 C1707.1,148.9 1707.8,141.6 1709.0,135.0 C1710.2,128.4 1711.5,116.5 1713.0,115.4 C1714.5,114.4 1716.6,123.8 1717.9,128.7 C1719.2,133.6 1719.8,140.6 1721.0,145.0 C1722.2,149.4 1722.9,152.7 1725.0,155.0 C1727.1,157.3 1731.0,158.9 1733.5,158.9 C1736.0,158.9 1737.7,156.1 1740.0,155.0 C1742.3,153.9 1744.3,152.2 1747.1,152.4 C1749.9,152.6 1753.3,153.3 1756.8,155.9 C1760.3,158.5 1764.1,163.4 1768.0,168.0 C1771.9,172.6 1776.5,179.2 1780.2,183.2 C1783.9,187.2 1786.4,189.8 1790.0,192.0 C1793.6,194.2 1798.3,196.2 1801.6,196.2 C1804.9,196.2 1807.1,193.8 1810.0,192.0 C1812.9,190.2 1815.8,187.6 1819.1,185.1 C1822.4,182.6 1826.6,179.4 1830.0,177.0 C1833.4,174.6 1838.0,171.6 1839.6,170.5" fill="none" stroke="#d01818" stroke-width="1.9" stroke-linejoin="round"/>
<text x="1651.4" y="318.8" font-size="33.5" fill="#111">LTP</text>
<text x="1781.6" y="318.8" font-size="33.5" fill="#111">LTD</text>
<line x1="1720.3" y1="307.6" x2="1751" y2="307.6" stroke="#000" stroke-width="4.8"/>
<path d="M1749.3,300 L1767.2,307.6 L1749.3,315 Z" fill="#000"/>
</g>
<g id="net"><use href="#slice" transform="translate(0,354)"/><use href="#recel" transform="translate(0,354)"/>
<g>
<path d="M1329,402 C1335,390 1342,380 1350,376 C1358,372 1365,370 1371,369.5 C1378,369 1385,371 1388.4,374.3 C1392,377 1394,380 1395.2,382.5 C1400,382 1405,385 1404,390 C1403,394 1400,395 1398.6,394 C1396,400 1392,405 1388.4,407.7 C1382,414 1378,418 1374.8,420 C1368,422 1362,422 1357.7,421.4 C1352,421 1348,420 1344,419.3 C1340,424 1336,426 1330,426 C1325,426 1321,424 1321,418 C1320,412 1324,406 1329,402 Z" fill="#d3c7b1" stroke="#111" stroke-width="2"/>
<path d="M1333,406 C1345,390 1360,380 1388,374" fill="none" stroke="#111" stroke-width="1.6"/>
<path d="M1324,422 C1328,414 1332,410 1338,408 C1342,412 1344,416 1344,419" fill="none" stroke="#111" stroke-width="1.5"/>
<path d="M1385,377 C1392,382 1393,392 1391,400 M1395,382 C1398,388 1398,394 1395,398 M1366,372 C1368,375 1370,380 1370,382 M1374,371 C1373,376 1378,378 1382,377" fill="none" stroke="#111" stroke-width="1.3"/>
<g stroke="#111" stroke-width="0.8" fill="none">
<path d="M1354.3,381.1 L1356.7,403 L1342.4,404.6 L1365.2,415.6 L1356.7,403 L1366.6,389.3 L1365.2,415.6 L1380.2,400.9 L1366.6,389.3"/>
<path d="M1343,389.3 L1356.7,403"/>
</g>
<g fill="url(#gDot)" stroke="#2a2070" stroke-width="0.6">
<circle cx="1354.3" cy="381.1" r="3.8"/><circle cx="1343" cy="389.3" r="3.8"/><circle cx="1366.6" cy="389.3" r="3.8"/><circle cx="1380.2" cy="400.9" r="3.8"/><circle cx="1356.7" cy="403" r="3.8"/><circle cx="1342.4" cy="404.6" r="3.8"/><circle cx="1365.2" cy="415.6" r="3.8"/>
</g>
</g>
<ellipse cx="1745.2" cy="534.1" rx="94.2" ry="85.6" fill="none" stroke="#222" stroke-width="1.1"/>
<path d="M1651.5,502.6 L1651.8,499.5 L1652.1,552.2 L1652.4,519.7 L1652.7,536.5 L1653.0,538.7 L1653.3,534.4 L1653.6,537.1 L1653.9,530.2 L1654.2,533.7 L1654.5,531.2 L1654.8,525.9 L1655.1,521.0 L1655.4,546.2 L1655.7,535.1 L1656.0,533.3 L1656.3,522.8 L1656.6,519.0 L1656.9,540.7 L1657.2,523.1 L1657.5,529.0 L1657.8,538.2 L1658.1,520.1 L1658.4,527.1 L1658.7,519.3 L1659.0,522.3 L1659.3,529.6 L1659.6,522.7 L1659.9,515.9 L1660.2,524.0 L1660.5,520.2 L1660.8,511.0 L1661.1,518.9 L1661.4,536.1 L1661.7,532.1 L1662.0,522.1 L1662.3,523.9 L1662.6,515.5 L1662.9,525.6 L1663.2,522.9 L1663.5,526.5 L1663.8,529.1 L1664.1,522.2 L1664.4,516.2 L1664.7,519.1 L1665.0,514.6 L1665.3,529.2 L1665.6,548.2 L1665.9,516.7 L1666.2,522.1 L1666.5,530.6 L1666.8,525.9 L1667.1,519.7 L1667.4,499.9 L1667.7,518.5 L1668.0,523.1 L1668.3,516.4 L1668.6,524.3 L1668.9,526.7 L1669.2,516.8 L1669.5,507.5 L1669.8,510.9 L1670.1,493.5 L1670.4,520.5 L1670.7,505.3 L1671.0,506.6 L1671.3,509.6 L1671.6,491.1 L1671.9,501.6 L1672.2,490.7 L1672.5,490.3 L1672.8,507.4 L1673.1,504.9 L1673.4,490.0 L1673.7,503.7 L1674.0,488.0 L1674.3,493.1 L1674.6,506.2 L1674.9,500.4 L1675.2,506.8 L1675.5,506.1 L1675.8,499.8 L1676.1,496.4 L1676.4,507.0 L1676.7,509.7 L1677.0,517.8 L1677.3,526.7 L1677.6,527.8 L1677.9,534.5 L1678.2,527.3 L1678.5,516.5 L1678.8,525.6 L1679.1,540.5 L1679.4,554.7 L1679.7,552.2 L1680.0,547.9 L1680.3,557.7 L1680.6,556.7 L1680.9,566.4 L1681.2,559.0 L1681.5,551.0 L1681.8,564.5 L1682.1,557.9 L1682.4,549.2 L1682.7,563.2 L1683.0,545.0 L1683.3,560.4 L1683.6,553.0 L1683.9,532.3 L1684.2,542.2 L1684.5,551.9 L1684.8,554.6 L1685.1,543.9 L1685.4,544.6 L1685.7,544.0 L1686.0,545.3 L1686.3,536.2 L1686.6,529.2 L1686.9,525.2 L1687.2,527.6 L1687.5,508.9 L1687.8,530.3 L1688.1,524.8 L1688.4,516.0 L1688.7,508.2 L1689.0,507.6 L1689.3,532.5 L1689.6,523.2 L1689.9,517.3 L1690.2,514.3 L1690.5,510.7 L1690.8,510.5 L1691.1,496.8 L1691.4,502.4 L1691.7,511.2 L1692.0,506.4 L1692.3,499.7 L1692.6,507.7 L1692.9,511.5 L1693.2,480.0 L1693.5,486.0 L1693.8,490.0 L1694.1,485.3 L1694.4,492.4 L1694.7,499.0 L1695.0,496.7 L1695.3,518.2 L1695.6,490.1 L1695.9,503.7 L1696.2,494.4 L1696.5,482.9 L1696.8,493.3 L1697.1,482.5 L1697.4,511.3 L1697.7,492.6 L1698.0,490.5 L1698.3,492.3 L1698.6,483.9 L1698.9,480.0 L1699.2,505.1 L1699.5,525.1 L1699.8,523.0 L1700.1,523.6 L1700.4,521.0 L1700.7,525.9 L1701.0,528.6 L1701.3,543.4 L1701.6,513.9 L1701.9,522.6 L1702.2,529.5 L1702.5,530.7 L1702.8,539.9 L1703.1,532.3 L1703.4,542.9 L1703.7,536.6 L1704.0,535.3 L1704.3,529.0 L1704.6,535.5 L1704.9,542.3 L1705.2,546.0 L1705.5,537.9 L1705.8,558.8 L1706.1,553.3 L1706.4,548.4 L1706.7,558.9 L1707.0,545.9 L1707.3,551.2 L1707.6,544.2 L1707.9,546.1 L1708.2,545.3 L1708.5,549.1 L1708.8,537.1 L1709.1,551.5 L1709.4,545.8 L1709.7,552.5 L1710.0,539.1 L1710.3,549.1 L1710.6,538.3 L1710.9,530.7 L1711.2,527.3 L1711.5,525.2 L1711.8,524.5 L1712.1,534.0 L1712.4,520.9 L1712.7,531.5 L1713.0,521.0 L1713.3,524.0 L1713.6,504.9 L1713.9,503.0 L1714.2,517.6 L1714.5,514.9 L1714.8,522.5 L1715.1,517.8 L1715.4,527.7 L1715.7,537.4 L1716.0,532.9 L1716.3,520.5 L1716.6,518.4 L1716.9,517.8 L1717.2,516.7 L1717.5,518.3 L1717.8,526.5 L1718.1,520.1 L1718.4,517.8 L1718.7,512.3 L1719.0,504.7 L1719.3,519.0 L1719.6,519.0 L1719.9,525.4 L1720.2,518.6 L1720.5,514.6 L1720.8,528.2 L1721.1,520.7 L1721.4,529.0 L1721.7,485.3 L1722.0,518.3 L1722.3,516.2 L1722.6,515.9 L1722.9,496.2 L1723.2,498.8 L1723.5,508.0 L1723.8,506.4 L1724.1,503.0 L1724.4,514.4 L1724.7,495.5 L1725.0,491.4 L1725.3,498.4 L1725.6,493.6 L1725.9,515.1 L1726.2,503.4 L1726.5,507.0 L1726.8,509.1 L1727.1,500.0 L1727.4,506.3 L1727.7,518.4 L1728.0,503.3 L1728.3,514.6 L1728.6,508.4 L1728.9,507.3 L1729.2,499.7 L1729.5,494.5 L1729.8,499.8 L1730.1,515.9 L1730.4,508.1 L1730.7,508.7 L1731.0,522.2 L1731.3,517.8 L1731.6,513.0 L1731.9,514.6 L1732.2,516.4 L1732.5,519.8 L1732.8,522.6 L1733.1,536.6 L1733.4,524.1 L1733.7,524.1 L1734.0,531.6 L1734.3,531.9 L1734.6,546.4 L1734.9,522.1 L1735.2,530.5 L1735.5,532.4 L1735.8,553.6 L1736.1,546.7 L1736.4,554.2 L1736.7,562.3 L1737.0,573.5 L1737.3,555.5 L1737.6,549.4 L1737.9,544.4 L1738.2,552.3 L1738.5,532.7 L1738.8,547.6 L1739.1,546.9 L1739.4,547.2 L1739.7,555.1 L1740.0,563.4 L1740.3,548.9 L1740.6,550.9 L1740.9,540.3 L1741.2,539.6 L1741.5,537.7 L1741.8,544.4 L1742.1,547.3 L1742.4,531.7 L1742.7,524.7 L1743.0,527.4 L1743.3,526.9 L1743.6,547.0 L1743.9,526.4 L1744.2,528.6 L1744.5,531.1 L1744.8,539.0 L1745.1,502.8 L1745.4,511.9 L1745.7,509.2 L1746.0,517.9 L1746.3,523.4 L1746.6,512.6 L1746.9,523.3 L1747.2,524.5 L1747.5,536.9 L1747.8,529.3 L1748.1,538.5 L1748.4,530.5 L1748.7,533.1 L1749.0,512.6 L1749.3,523.1 L1749.6,510.9 L1749.9,512.7 L1750.2,505.0 L1750.5,518.9 L1750.8,530.6 L1751.1,535.3 L1751.4,539.2 L1751.7,523.7 L1752.0,513.2 L1752.3,516.2 L1752.6,526.7 L1752.9,515.4 L1753.2,498.8 L1753.5,510.4 L1753.8,532.1 L1754.1,529.0 L1754.4,523.8 L1754.7,517.2 L1755.0,512.1 L1755.3,511.1 L1755.6,516.2 L1755.9,515.4 L1756.2,516.7 L1756.5,526.0 L1756.8,519.2 L1757.1,518.5 L1757.4,531.0 L1757.7,523.9 L1758.0,526.5 L1758.3,541.7 L1758.6,538.7 L1758.9,533.3 L1759.2,529.2 L1759.5,539.4 L1759.8,519.6 L1760.1,522.9 L1760.4,523.6 L1760.7,520.5 L1761.0,530.1 L1761.3,520.6 L1761.6,526.6 L1761.9,534.3 L1762.2,523.0 L1762.5,530.8 L1762.8,523.0 L1763.1,523.8 L1763.4,531.0 L1763.7,529.8 L1764.0,523.1 L1764.3,549.3 L1764.6,537.1 L1764.9,540.0 L1765.2,533.5 L1765.5,512.4 L1765.8,545.1 L1766.1,528.5 L1766.4,524.5 L1766.7,538.0 L1767.0,526.8 L1767.3,535.7 L1767.6,537.7 L1767.9,528.1 L1768.2,533.0 L1768.5,532.5 L1768.8,530.2 L1769.1,530.9 L1769.4,539.7 L1769.7,543.0 L1770.0,554.7 L1770.3,553.9 L1770.6,569.2 L1770.9,556.0 L1771.2,555.0 L1771.5,558.5 L1771.8,558.9 L1772.1,547.9 L1772.4,533.7 L1772.7,557.7 L1773.0,551.2 L1773.3,535.9 L1773.6,547.5 L1773.9,560.9 L1774.2,545.7 L1774.5,568.3 L1774.8,562.4 L1775.1,556.7 L1775.4,560.6 L1775.7,550.9 L1776.0,558.1 L1776.3,553.6 L1776.6,551.9 L1776.9,550.2 L1777.2,564.2 L1777.5,546.3 L1777.8,546.6 L1778.1,540.7 L1778.4,538.6 L1778.7,541.1 L1779.0,538.3 L1779.3,535.5 L1779.6,548.2 L1779.9,543.7 L1780.2,543.3 L1780.5,537.4 L1780.8,533.0 L1781.1,522.0 L1781.4,529.9 L1781.7,525.4 L1782.0,532.5 L1782.3,523.1 L1782.6,514.9 L1782.9,529.0 L1783.2,520.0 L1783.5,504.2 L1783.8,499.6 L1784.1,513.8 L1784.4,526.6 L1784.7,512.2 L1785.0,510.6 L1785.3,505.2 L1785.6,514.8 L1785.9,496.0 L1786.2,510.8 L1786.5,503.1 L1786.8,499.5 L1787.1,507.9 L1787.4,508.3 L1787.7,495.2 L1788.0,487.0 L1788.3,513.1 L1788.6,507.5 L1788.9,497.0 L1789.2,504.0 L1789.5,504.2 L1789.8,519.5 L1790.1,499.6 L1790.4,498.2 L1790.7,487.3 L1791.0,507.0 L1791.3,521.3 L1791.6,502.6 L1791.9,507.2 L1792.2,517.2 L1792.5,513.1 L1792.8,508.5 L1793.1,523.4 L1793.4,525.6 L1793.7,532.0 L1794.0,535.3 L1794.3,546.7 L1794.6,534.7 L1794.9,542.6 L1795.2,541.6 L1795.5,546.2 L1795.8,550.0 L1796.1,559.8 L1796.4,552.2 L1796.7,554.4 L1797.0,577.3 L1797.3,565.1 L1797.6,566.2 L1797.9,561.9 L1798.2,559.8 L1798.5,560.1 L1798.8,555.8 L1799.1,566.2 L1799.4,570.9 L1799.7,575.5 L1800.0,562.6 L1800.3,566.7 L1800.6,549.5 L1800.9,557.1 L1801.2,566.8 L1801.5,553.8 L1801.8,547.8 L1802.1,553.7 L1802.4,546.4 L1802.7,567.4 L1803.0,542.9 L1803.3,546.2 L1803.6,541.9 L1803.9,540.1 L1804.2,546.8 L1804.5,539.1 L1804.8,521.2 L1805.1,543.8 L1805.4,530.9 L1805.7,531.2 L1806.0,531.8 L1806.3,536.7 L1806.6,536.1 L1806.9,525.4 L1807.2,525.5 L1807.5,521.0 L1807.8,521.5 L1808.1,516.4 L1808.4,522.8 L1808.7,517.7 L1809.0,523.3 L1809.3,514.4 L1809.6,527.3 L1809.9,527.8 L1810.2,515.1 L1810.5,528.0 L1810.8,520.8 L1811.1,513.1 L1811.4,514.5 L1811.7,518.7 L1812.0,529.4 L1812.3,527.6 L1812.6,527.3 L1812.9,545.1 L1813.2,545.8 L1813.5,536.5 L1813.8,530.4 L1814.1,529.9 L1814.4,533.8 L1814.7,524.3 L1815.0,528.4 L1815.3,531.9 L1815.6,532.7 L1815.9,517.4 L1816.2,510.8 L1816.5,514.0 L1816.8,523.5 L1817.1,512.4 L1817.4,519.6 L1817.7,510.5 L1818.0,490.6 L1818.3,519.5 L1818.6,508.4 L1818.9,510.6 L1819.2,508.1 L1819.5,511.1 L1819.8,504.0 L1820.1,511.9 L1820.4,515.0 L1820.7,517.5 L1821.0,515.2 L1821.3,520.6 L1821.6,522.6 L1821.9,521.0 L1822.2,534.7 L1822.5,521.5 L1822.8,500.5 L1823.1,519.2 L1823.4,511.7 L1823.7,518.5 L1824.0,514.5 L1824.3,510.1 L1824.6,524.8 L1824.9,529.0 L1825.2,513.9 L1825.5,519.8 L1825.8,529.3 L1826.1,529.4 L1826.4,531.7 L1826.7,522.7 L1827.0,520.5 L1827.3,557.6 L1827.6,528.9 L1827.9,542.1 L1828.2,543.6 L1828.5,557.2 L1828.8,546.4 L1829.1,549.4 L1829.4,539.6 L1829.7,538.6 L1830.0,545.8 L1830.3,557.5 L1830.6,565.9 L1830.9,556.4 L1831.2,561.2 L1831.5,556.2 L1831.8,552.8 L1832.1,556.0 L1832.4,533.7 L1832.7,539.4 L1833.0,528.9 L1833.3,520.2 L1833.6,522.1 L1833.9,526.5 L1834.2,528.0 L1834.5,536.4 L1834.8,533.5 L1835.1,541.0 L1835.4,532.6 L1835.7,519.6 L1836.0,538.4 L1836.3,530.7 L1836.6,524.4 L1836.9,507.2 L1837.2,517.0 L1837.5,510.5 L1837.8,509.7 L1838.1,501.6 L1838.4,517.3 L1838.7,517.5 L1839.0,512.6 L1839.3,507.3 L1839.6,501.1 L1839.9,502.1" fill="none" stroke="#e81818" stroke-width="1.2"/>
<text x="1610" y="661" font-size="33.1" fill="#111">Aberrant oscillatory</text>
<text x="1703" y="696.5" font-size="33.1" fill="#111">activity</text>
</g>

<g id="beh">
<ellipse cx="1288.7" cy="958" rx="112" ry="27" transform="rotate(16.2 1288.7 958)" fill="url(#gShadow)"/>
<use href="#mouse" transform="translate(845.5,761) scale(0.53)"/>
<circle cx="1372.5" cy="953" r="29.3" fill="url(#gSoccer)" stroke="#111" stroke-width="1.2"/>
<clipPath id="cBall"><circle cx="1372.5" cy="953" r="29"/></clipPath>
<g fill="#000" clip-path="url(#cBall)">
<path d="M1373.5,937 L1384.5,945 L1380.5,958 L1366.5,958 L1362.5,945 Z"/>
<path d="M1358,921 L1388,921 L1386,929 L1372,931 L1360,929 Z"/>
<path d="M1341,940 L1352,945 L1353,960 L1343,966 L1338,955 Z"/>
<path d="M1404,938 L1394,944 L1393,959 L1403,966 L1408,955 Z"/>
<path d="M1350,975 L1360,969 L1369,977 L1366,986 L1352,984 Z"/>
<path d="M1379,977 L1388,969 L1398,974 L1395,985 L1382,986 Z"/>
</g>
<g fill="#fff" stroke="#222" stroke-width="1.2">
<ellipse cx="1400" cy="810.7" rx="34.5" ry="36.9"/>
<circle cx="1381" cy="862" r="5.5"/>
<circle cx="1369" cy="871.3" r="3.5"/>
</g>
<text x="1374.4" y="823.3" font-size="44.5" fill="#111">¿?</text>
<!-- box -->
<path d="M1470.3,956.5 L1585.8,830.6 L1585.8,879 L1516.9,955.4 Z" fill="url(#gLeftW)" stroke="#111" stroke-width="1.2"/>
<path d="M1585.8,830.6 L1882.3,830.6 L1838.6,879 L1585.8,879 Z" fill="url(#gBack)" stroke="#111" stroke-width="1.2"/>
<path d="M1516.9,955.4 L1585.8,879 L1838.6,879 L1769.9,955.4 Z" fill="#fff" stroke="#111" stroke-width="1"/>
<path d="M1768.5,956.5 L1882.3,830.6 L1882.3,877.2 L1768.5,1004.7 Z" fill="url(#gRightW)" stroke="#111" stroke-width="1.2"/>
<rect x="1470.3" y="956.5" width="298.2" height="48.2" fill="url(#gFront)" stroke="#111" stroke-width="1.2"/>
<!-- mouse 3 -->
<path d="M1631.9,902.8 C1614,897 1597,884 1604.6,871.7 C1612,865 1630,867 1644.5,870.7" fill="none" stroke="#222" stroke-width="5" stroke-linecap="round"/>
<path d="M1631.9,902.8 C1614,897 1597,884 1604.6,871.7 C1612,865 1630,867 1644.5,870.7" fill="none" stroke="#7a7a5c" stroke-width="3" stroke-linecap="round"/>
<path d="M1692,881 C1690,875 1696,873 1702,880 C1706,885 1710,890 1713,895 C1706,895 1698,890 1692,881 Z" fill="#a89aa6" stroke="#111" stroke-width="1"/>
<path d="M1631,909 C1632,895 1645,882 1663,879.5 C1678,879 1688,884 1700,891 C1712,896 1728,902 1740,910 C1746,913 1750,917 1748.7,920 C1745,925 1738,930 1730,932 C1722,934 1714,935 1706.8,936 C1710,940 1712,944 1709,946 C1704,947 1700,945 1698,942 C1692,942 1688,942 1682.5,941.8 C1676,942 1674,946 1676,951 C1674,954 1668,954 1664,950 C1660,946 1660,942 1660,939 C1652,937 1648,936 1646,936 C1646,940 1642,942 1638,940 C1634,938 1636,932 1636,928 C1632,922 1630,915 1631,909 Z" fill="url(#gM3)" stroke="#111" stroke-width="1.2"/>
<path d="M1680,909 C1668,908 1660,918 1660,930 C1660,935 1661,938 1662,940" fill="none" stroke="#111" stroke-width="1.2"/>
<ellipse cx="1696" cy="903" rx="11" ry="10.5" fill="#d2b48a" stroke="#111" stroke-width="1"/>
<path d="M1690,900 C1692,895 1700,896 1700,903 C1700,908 1697,910 1695,908" fill="none" stroke="#111" stroke-width="0.8"/>
<circle cx="1725.3" cy="911.6" r="3.6" fill="#000"/>
<g stroke="#ddd" stroke-width="0.7" fill="none"><path d="M1744,918 L1735,933 M1746,919 L1739,936 M1742,918 L1731,932 M1749,905 L1745,914"/></g>
<g stroke="#111" stroke-width="0.7" fill="none"><path d="M1743,920 L1737,935 M1745,921 L1741,937 M1741,920 L1733,933"/></g>
<g fill="#fff" stroke="#222" stroke-width="1.2">
<ellipse cx="1753" cy="806.5" rx="36.2" ry="37.9"/>
<circle cx="1741" cy="860" r="7"/>
<circle cx="1728.9" cy="870.3" r="3.5"/>
</g>
<text x="1726.2" y="818.8" font-size="44.5" fill="#111">¿?</text>
<text x="1243.7" y="1053.3" font-size="33.1" fill="#111">Hippocampal-dependent memory deficits</text>
</g>

<!-- borders -->
<line x1="1156" y1="5.5" x2="1903.5" y2="5.5" stroke="#000" stroke-width="1.4" stroke-dasharray="3 4"/>
<line x1="604" y1="5.5" x2="1903.5" y2="5.5" stroke="#000" stroke-width="1"/>
<line x1="1445" y1="361" x2="1903.5" y2="361" stroke="#333" stroke-width="1.2" stroke-dasharray="3 4"/>
<line x1="1445" y1="715" x2="1903.5" y2="715" stroke="#333" stroke-width="1.2" stroke-dasharray="3 4"/>
<line x1="1156.4" y1="5.5" x2="1156.4" y2="1064" stroke="#111" stroke-width="1.1" stroke-dasharray="3.6 3.7"/>
<line x1="1903.5" y1="5" x2="1903.5" y2="1064" stroke="#000" stroke-width="1.6"/>

<!-- titles -->
<text x="1432.3" y="58.8" font-size="50.4" font-weight="bold">Synapses</text>
<text x="1433" y="415.4" font-size="51" font-weight="bold">Networks</text>
<text x="1439" y="770.3" font-size="51" font-weight="bold">Behavior</text>
</svg>
</body></html>
